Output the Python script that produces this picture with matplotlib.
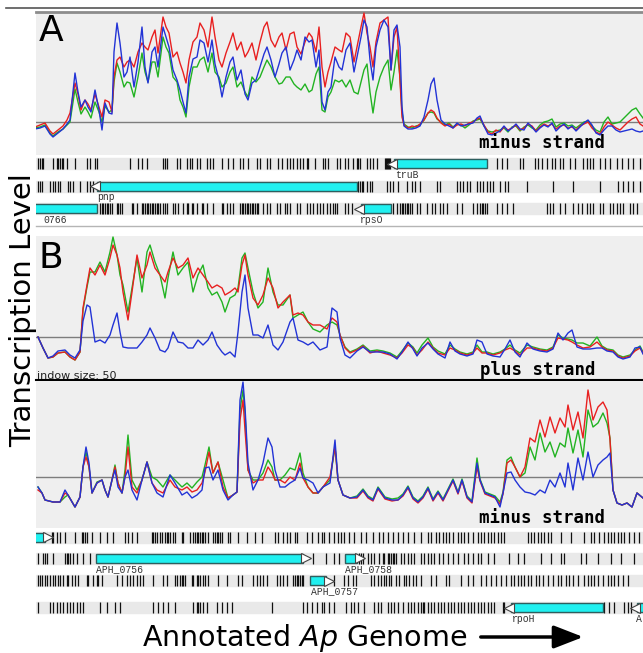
import matplotlib.pyplot as plt
from matplotlib.lines import Line2D
from matplotlib.patches import FancyArrowPatch

# ---------------------------------------------------------------
# signal data (genome position, level above the baseline)
# panel A, minus strand
a_pos = [35, 40, 45, 50, 53, 58, 63, 67, 70, 75,
         78, 81, 85, 88, 91, 95, 99, 102, 105, 109,
         112, 114, 117, 120, 124, 127, 130, 134, 138, 142,
         145, 148, 152, 155, 158, 163, 166, 169, 173, 177,
         180, 183, 186, 189, 193, 197, 200, 204, 208, 212,
         215, 219, 222, 226, 230, 233, 237, 241, 245, 248,
         252, 256, 260, 264, 267, 271, 275, 279, 282, 286,
         290, 294, 297, 301, 305, 309, 312, 316, 319, 322,
         325, 328, 331, 335, 339, 342, 346, 350, 354, 358,
         361, 364, 367, 370, 373, 376, 380, 384, 388, 391,
         394, 397, 400, 402, 404, 408, 412, 416, 420, 424,
         428, 431, 434, 437, 441, 445, 449, 453, 457, 461,
         465, 469, 473, 477, 480, 484, 488, 492, 496, 500,
         504, 508, 512, 516, 520, 524, 528, 532, 536, 540,
         544, 548, 552, 556, 560, 564, 568, 572, 576, 580,
         584, 588, 592, 596, 600, 604, 608, 612, 616, 620,
         624, 628, 632, 636, 640, 643]
a_red = [-5, -3, -1, -9, -12, -8, -4, 2, 9, 39,
         28, 12, 22, 18, 12, 28, 15, 5, 22, 20,
         10, 45, 62, 65, 55, 60, 62, 55, 70, 79,
         75, 72, 85, 92, 69, 105, 95, 89, 65, 70,
         59, 50, 39, 62, 80, 85, 99, 92, 75, 105,
         85, 62, 55, 69, 80, 89, 72, 80, 65, 70,
         79, 62, 80, 95, 100, 82, 75, 85, 89, 72,
         88, 90, 75, 68, 80, 89, 85, 70, 95, 55,
         35, 50, 60, 75, 72, 70, 89, 85, 60, 80,
         95, 109, 89, 75, 55, 80, 99, 102, 105, 52,
         85, 95, 40, 5, -3, -6, -4, -5, -2, 2,
         9, 12, 10, 4, -1, -4, -2, -6, -3, -2,
         -4, -1, 0, 3, 4, -3, -10, -12, -8, -10,
         -5, -8, -6, -3, -8, -6, -2, -4, -9, -5,
         -2, -4, -2, -7, -4, -3, -6, -5, -8, -4,
         -2, 0, -6, -10, -12, -5, 0, -3, -6, -8,
         -4, 0, 3, 5, -2, -4]
a_green = [-6, -5, -3, -11, -14, -10, -7, -3, 0, 33,
           20, 8, 15, 10, 4, 20, 10, 0, 16, 10,
           12, 40, 59, 50, 35, 40, 39, 25, 45, 69,
           50, 40, 60, 60, 45, 85, 75, 69, 45, 40,
           22, 15, 5, 35, 55, 55, 62, 65, 50, 69,
           50, 45, 35, 39, 50, 55, 35, 40, 30, 25,
           45, 40, 45, 55, 62, 55, 45, 38, 39, 45,
           45, 38, 35, 32, 38, 30, 32, 48, 55, 12,
           10, 25, 30, 42, 40, 42, 35, 42, 30, 28,
           40, 52, 58, 30, 9, 30, 45, 55, 62, 32,
           50, 72, 45, 10, -2, -5, -6, -4, -3, 2,
           9, 10, 9, 3, 0, -3, -1, -5, -2, -3,
           -6, -3, 1, 2, 3, -4, -9, -10, -9, -8,
           -6, -10, -5, -4, -9, -5, -3, -6, -8, -3,
           0, 1, 3, -5, -2, -1, -4, -3, -6, -3,
           0, 1, -4, -8, -10, 0, 5, -2, -1, 0,
           4, 8, 12, 14, 8, 4]
a_blue = [-7, -6, -4, -12, -15, -11, -7, -2, 2, 49,
          30, 15, 22, 15, 10, 32, 12, -8, 19, 9,
          8, 70, 99, 79, 45, 50, 65, 35, 60, 95,
          55, 39, 70, 75, 55, 95, 85, 75, 52, 42,
          32, 20, 9, 45, 63, 65, 82, 79, 60, 82,
          58, 42, 25, 45, 60, 65, 42, 52, 28, 22,
          39, 42, 55, 68, 75, 62, 45, 58, 69, 75,
          52, 62, 72, 62, 85, 80, 82, 55, 72, 20,
          12, 30, 35, 65, 55, 52, 72, 79, 50, 70,
          85, 102, 95, 62, 42, 75, 92, 102, 95, 52,
          92, 97, 75, 15, -4, -7, -7, -6, -4, 5,
          22, 38, 44, 22, 2, -2, -4, -6, -1, -4,
          -3, -2, -1, 4, 6, -4, -12, -13, -11, -9,
          -4, -9, -6, -2, -7, -8, -1, -5, -10, -6,
          -3, -5, -1, -9, -5, -2, -7, -4, -9, -5,
          -1, 2, -3, -11, -13, -8, -4, -4, -8, -10,
          -9, -8, -7, -9, -10, -9]

# panel B, plus strand
bp_pos = [38, 43, 48, 53, 58, 65, 70, 75, 80, 83,
          87, 90, 95, 100, 105, 110, 113, 117, 120, 123,
          128, 132, 137, 142, 147, 150, 155, 160, 165, 168,
          173, 178, 183, 188, 193, 198, 203, 208, 212, 217,
          222, 225, 230, 235, 238, 242, 245, 248, 253, 258,
          263, 268, 273, 278, 283, 290, 293, 298, 303, 308,
          313, 320, 327, 332, 337, 340, 345, 350, 357, 363,
          370, 377, 383, 390, 397, 402, 408, 413, 417, 422,
          428, 433, 438, 445, 450, 455, 460, 467, 473, 477,
          482, 487, 493, 500, 505, 510, 515, 520, 527, 533,
          540, 547, 553, 558, 563, 568, 572, 577, 583, 590,
          597, 602, 607, 613, 618, 623, 630, 635, 640, 643]
bp_red = [0, -11, -21, -20, -16, -15, -20, -23, -15, 29,
          52, 69, 62, 72, 62, 79, 92, 82, 69, 45,
          17, 45, 82, 59, 72, 85, 69, 62, 55, 65,
          79, 69, 72, 79, 59, 69, 62, 55, 49, 52,
          49, 42, 45, 49, 45, 72, 82, 62, 39, 32,
          42, 59, 49, 29, 35, 42, 22, 24, 22, 15,
          12, 12, 8, 19, 15, 2, -11, -16, -13, -9,
          -16, -14, -16, -18, -21, -16, -8, -11, -18, -13,
          -5, -11, -16, -18, -11, -13, -16, -18, -16, -11,
          -16, -16, -18, -16, -13, -11, -14, -18, -11, -11,
          -13, -14, -11, -1, -2, -3, -5, -8, -11, -10,
          -5, -10, -13, -14, -19, -21, -19, -14, -11, -16]
bp_green = [0, -11, -21, -20, -16, -15, -20, -23, -15, 27,
            50, 65, 65, 75, 65, 85, 100, 82, 62, 52,
            25, 49, 79, 45, 85, 92, 75, 62, 39, 59,
            85, 62, 69, 75, 45, 62, 72, 49, 42, 45,
            35, 25, 39, 42, 49, 79, 84, 69, 45, 29,
            35, 69, 45, 32, 32, 42, 19, 22, 25, 15,
            8, 5, 12, 15, 12, 2, -10, -15, -12, -8,
            -14, -13, -14, -16, -20, -14, -6, -10, -16, -8,
            -1, -10, -14, -17, -8, -12, -15, -17, -15, -8,
            -15, -15, -17, -15, -12, -8, -13, -16, -8, -10,
            -12, -13, -10, 2, -1, -2, -3, -6, -6, -9,
            0, -9, -12, -13, -18, -20, -18, -13, -9, -15]
bp_blue = [0, -11, -21, -19, -14, -13, -18, -21, -13, 16,
           32, 30, -5, -3, -6, 2, 12, 24, 5, -10,
           -11, -11, -11, -5, 2, 9, -1, -13, -15, -11,
           5, -5, -6, -11, -11, -3, -8, -3, 5, -8,
           -15, -18, -15, -20, 5, 45, 62, 29, 2, 2,
           -1, 12, -8, -13, -5, 15, 19, -3, -5, -8,
           -5, -13, -10, 29, 25, -1, -18, -21, -14, -10,
           -15, -15, -15, -17, -22, -15, -5, -12, -19, -11,
           -6, -12, -17, -21, -5, -14, -17, -19, -17, -3,
           -5, -17, -19, -20, -12, -3, -15, -20, -6, -12,
           -14, -15, -12, 4, -3, 4, 7, -10, -12, -12,
           -11, -11, -14, -15, -20, -22, -20, -11, -10, -17]

# panel B, minus strand
bm_pos = [38, 42, 45, 53, 60, 65, 68, 75, 80, 83,
          86, 89, 92, 97, 102, 105, 108, 112, 115, 118,
          122, 125, 128, 132, 137, 142, 147, 152, 157, 163,
          170, 175, 182, 187, 192, 197, 202, 205, 209, 213,
          218, 223, 228, 233, 237, 240, 243, 245, 248, 253,
          258, 263, 268, 272, 275, 280, 285, 290, 295, 300,
          303, 308, 313, 318, 323, 330, 335, 338, 343, 350,
          357, 363, 368, 373, 378, 385, 392, 398, 403, 408,
          413, 418, 423, 428, 433, 438, 443, 448, 453, 458,
          462, 467, 472, 477, 480, 485, 490, 495, 500, 503,
          507, 511, 515, 520, 525, 530, 535, 540, 545, 550,
          555, 560, 565, 568, 573, 578, 583, 588, 593, 598,
          603, 607, 610, 613, 617, 622, 627, 632, 637, 643]
bm_red = [-13, -16, -23, -25, -25, -16, -18, -30, -20, 10,
          20, 10, -16, -6, -3, -13, -20, -3, 10, -6,
          -16, 0, 30, -10, -16, -3, 15, -6, -13, -16,
          -3, -10, -13, -10, -15, -13, -6, 5, 25, 4,
          15, -10, -21, -18, -15, 57, 77, 47, 7, -6,
          -3, -3, 10, 4, -3, -3, -6, 0, -3, 14,
          -1, -10, -16, -16, -10, 0, 30, -3, -18, -21,
          -21, -14, -21, -24, -12, -22, -24, -23, -19, -11,
          -22, -26, -21, -12, -24, -16, -24, -14, -4, -17,
          -4, -21, -26, 10, -4, -17, -19, -21, -27, -17,
          14, 17, 10, 0, 10, 39, 35, 57, 40, 60,
          44, 59, 50, 72, 47, 65, 39, 87, 57, 70,
          75, 67, 37, -13, -26, -28, -26, -30, -16, -21]
bm_green = [-10, -16, -23, -25, -25, -20, -18, -30, -20, 10,
            25, 10, -16, -5, -3, -13, -20, -3, 12, -6,
            -16, 7, 42, -3, -13, -3, 15, 0, -3, -10,
            2, -3, -10, -6, -11, -5, 0, 12, 30, 4,
            15, -3, -21, -18, -15, 67, 87, 64, 7, -3,
            -3, 4, 17, 10, -3, -3, 2, 9, 7, 24,
            4, -10, -16, -16, -10, -3, 30, -3, -18, -21,
            -19, -12, -19, -22, -10, -20, -22, -21, -17, -9,
            -20, -24, -19, -10, -22, -14, -22, -12, -2, -15,
            -2, -19, -24, 19, -2, -15, -17, -19, -25, -15,
            17, 20, 10, 0, 4, 30, 17, 44, 25, 35,
            20, 34, 30, 49, 24, 47, 20, 67, 50, 54,
            64, 54, 39, -13, -26, -28, -26, -30, -16, -21]
bm_blue = [-10, -16, -23, -25, -25, -13, -18, -30, -20, 10,
           30, 14, -16, -6, -3, -13, -20, -3, 7, -10,
           -16, 0, 7, -13, -23, -3, 15, -6, -16, -20,
           2, -6, -18, -15, -21, -18, -13, 9, 10, -3,
           7, -13, -23, -18, -15, 77, 95, 70, 14, -13,
           -3, 14, 39, 30, 7, -10, -10, -6, -3, 9,
           -1, -3, -6, -16, -10, -6, 37, -3, -18, -21,
           -20, -13, -20, -23, -11, -21, -23, -23, -18, -10,
           -21, -25, -20, -11, -23, -15, -23, -13, -3, -16,
           -3, -20, -25, 14, -3, -16, -18, -20, -30, -16,
           4, 5, -3, -10, -15, -16, -18, -13, -16, -3,
           -10, 4, -10, 14, -13, 19, -3, 25, 0, 12,
           17, 20, 24, -13, -26, -28, -26, -30, -16, -21]

# ---------------------------------------------------------------
# annotation tracks (positions of short features and of named genes)
a_ticks = [
    [38, 40, 42, 43, 53, 57, 58, 60, 62, 63, 67, 75, 87, 90, 95, 97, 130, 138, 142, 147,
     163, 165, 167, 177, 180, 187, 190, 192, 197, 200, 207, 210, 213, 222, 228, 233, 240, 243,
     248, 257, 260, 267, 270, 278, 282, 287, 290, 293, 297, 300, 303, 307, 308, 315, 323, 325,
     328, 337, 340, 345, 348, 353, 357, 358, 360, 367, 370, 373, 377, 385, 386, 387, 388, 389,
     390, 497, 502, 507, 520, 523, 535, 538, 542, 547, 552, 555, 560, 563, 570, 575, 583, 587,
     590, 593, 600, 605, 610, 617, 622, 628, 633, 640],
    [38, 40, 42, 50, 53, 55, 58, 60, 68, 70, 73, 80, 87, 90, 93, 358, 360, 362, 363, 367, 370,
     372, 387, 390, 393, 398, 407, 412, 415, 420, 437, 440, 457, 460, 463, 467, 470, 477, 480,
     483, 487, 490, 493, 500, 505, 508, 527, 553, 573, 600, 618, 623, 628, 633, 640],
    [100, 102, 103, 105, 107, 108, 110, 112, 117, 118, 120, 122, 132, 133, 137, 142, 143, 145,
     147, 148, 150, 152, 153, 155, 157, 158, 160, 163, 165, 167, 173, 175, 178, 183, 187, 188,
     192, 193, 197, 202, 203, 207, 213, 222, 223, 227, 230, 233, 240, 242, 243, 245, 247, 248,
     250, 252, 253, 255, 257, 258, 263, 267, 270, 277, 280, 285, 287, 290, 297, 300, 307, 310,
     313, 317, 320, 323, 327, 330, 333, 335, 337, 345, 348, 352, 393, 397, 400, 402, 403, 405,
     407, 408, 410, 412, 417, 420, 427, 432, 435, 440, 443, 447, 457, 462, 473, 477, 480, 482,
     483, 485, 487, 497, 502, 507, 513, 547, 550, 553, 560, 565, 573, 578, 582, 587, 590, 593,
     600, 603, 610, 613, 617, 620, 623, 630, 633, 637],
]
a_gene_names = ['truB', 'pnp', '0766', 'rpsO']
a_gene_start = [394, 97, 20, 361]
a_gene_end = [487, 357, 97, 391]
a_gene_row = [0, 1, 2, 2]
a_gene_strand = ['-', '-', '', '-']
a_label_x = [395, 97, 43, 360]

b_ticks = [
    [52, 53, 57, 60, 65, 75, 82, 83, 85, 87, 92, 100, 107, 113, 125, 128, 132, 137, 152, 153,
     155, 157, 160, 162, 165, 167, 168, 170, 173, 175, 182, 183, 190, 193, 195, 197, 198, 200,
     202, 203, 205, 208, 213, 215, 217, 218, 220, 222, 228, 230, 238, 247, 255, 262, 275, 278,
     283, 287, 290, 295, 297, 307, 312, 318, 322, 324, 329, 334, 338, 341, 344, 349, 354, 361,
     366, 373, 379, 383, 388, 393, 398, 403, 408, 414, 421, 428, 431, 436, 439, 443, 446, 449,
     453, 458, 461, 464, 468, 473, 478, 481, 484, 488, 491, 494, 498, 501, 504, 528, 531, 534,
     538, 541, 544, 548, 551, 561, 571, 584, 591, 594, 599, 604, 608, 611, 614, 618, 621, 624,
     629, 634, 639],
    [38, 43, 45, 47, 53, 65, 67, 68, 70, 73, 77, 83, 90, 313, 326, 334, 339, 359, 361, 363, 368,
     371, 374, 379, 383, 384, 388, 389, 391, 393, 394, 396, 401, 404, 408, 411, 414, 421, 424,
     428, 431, 434, 439, 443, 448, 453, 458, 464, 468, 473, 478, 481, 488, 494, 509, 518, 524,
     541, 551, 561, 564, 581, 586, 598, 611, 621, 634],
    [38, 40, 42, 45, 47, 50, 53, 55, 58, 60, 63, 67, 68, 72, 75, 78, 87, 88, 93, 97, 98, 102,
     117, 122, 127, 130, 133, 137, 140, 143, 153, 163, 167, 175, 177, 180, 182, 183, 185, 192,
     193, 197, 198, 200, 203, 205, 208, 218, 227, 238, 242, 253, 257, 260, 263, 267, 277, 280,
     283, 287, 293, 295, 297, 298, 300, 302, 303, 334, 344, 348, 353, 356, 371, 374, 378, 381,
     384, 386, 389, 391, 396, 399, 404, 406, 409, 413, 416, 421, 431, 436, 446, 449, 461, 468,
     473, 481, 486, 491, 496, 501, 506, 511, 514, 518, 521, 524, 528, 531, 536, 539, 543, 548,
     553, 558, 561, 566, 569, 573, 578, 584, 588, 591, 594, 598, 603, 608, 611, 614, 618, 623,
     628],
    [38, 50, 53, 57, 60, 63, 67, 70, 73, 77, 80, 83, 100, 107, 115, 120, 153, 158, 163, 168,
     175, 193, 197, 198, 200, 203, 207, 217, 222, 227, 232, 272, 303, 307, 312, 317, 322, 324,
     329, 334, 346, 351, 354, 358, 364, 374, 378, 381, 388, 391, 394, 398, 403, 408, 411, 414,
     418, 421, 423, 424, 428, 431, 434, 438, 441, 444, 448, 451, 454, 458, 461, 464, 468, 471,
     474, 478, 481, 484, 488, 491, 494, 503, 504, 604, 609, 614, 624, 628, 631],
]
b_gene_names = ['', 'APH_0756', 'APH_0758', 'APH_0757', 'rpoH', 'A']
b_gene_start = [30, 96, 345, 310, 511, 637]
b_gene_end = [45, 303, 357, 326, 603, 660]
b_gene_row = [0, 1, 1, 2, 3, 3]
b_gene_strand = ['+', '+', '+', '+', '-', '-']
b_label_x = [36, 96, 345, 311, 512, 636]

# ---------------------------------------------------------------
W, H = 643, 653
fig = plt.figure(figsize=(6.43, 6.53), dpi=100)


def box(top, bottom, left=36, right=643):
    return [left / W, 1 - bottom / H, (right - left) / W, (bottom - top) / H]


def fx(x):
    return x / W


def fy(y):
    return 1 - y / H


def signal(ax, pos, red, green, blue, lo, hi):
    ax.set_facecolor('#efefef')
    ax.axhline(0, color='#7d7d7d', lw=1, zorder=1)
    ax.plot(pos, green, color='#22b322', lw=1.0, zorder=2)
    ax.plot(pos, red, color='#e82020', lw=1.0, zorder=3)
    ax.plot(pos, blue, color='#2233d6', lw=1.0, zorder=4)
    ax.set_xlim(36, 643)
    ax.set_ylim(lo, hi)
    ax.set_xticks([])
    ax.set_yticks([])
    for s in ax.spines.values():
        s.set_visible(False)


def tracks(ax, rows, ticks, names, starts, ends, rws, strands, lab_x, lo, hi):
    ax.set_xlim(36, 643)
    ax.set_ylim(hi, lo)
    ax.axis('off')
    for c, tk in zip(rows, ticks):
        ax.axhspan(c - 5.5, c + 5.5, color='#e9e9e9', zorder=0)
        ax.vlines(tk, c - 5.5, c + 5.5, color='#111111', lw=0.9, zorder=1)
    for nm, s, e, r, st, lx in zip(names, starts, ends, rws, strands, lab_x):
        c = rows[r]
        ax.barh(c, e - s, left=s, height=9, color='#20f0f0',
                edgecolor='#2d5f5f', lw=1, zorder=3)
        if st == '-':
            ax.plot(s - 2.5, c, marker='<', ms=7, mfc='white', mec='#444', mew=0.8, zorder=4)
        elif st == '+':
            ax.plot(e + 2.5, c, marker='>', ms=7, mfc='white', mec='#444', mew=0.8, zorder=4)
        if nm:
            ax.text(lx, c + 6, nm, fontsize=7, family='Liberation Mono', color='#333',
                    va='top', ha='left', zorder=5, clip_on=False)


# panel A
axA = fig.add_axes(box(12, 155))
signal(axA, a_pos, a_red, a_green, a_blue, -33, 110)
axA.spines['top'].set_visible(True)
axA.spines['top'].set_color('#8c8c8c')
axA.spines['top'].set_linewidth(2)

axAt = fig.add_axes(box(155, 226))
tracks(axAt, [163.5, 186.5, 209], a_ticks, a_gene_names, a_gene_start, a_gene_end,
       a_gene_row, a_gene_strand, a_label_x, 155, 226)

# panel B
axB1 = fig.add_axes(box(236, 380))
signal(axB1, bp_pos, bp_red, bp_green, bp_blue, -43, 101)
axB1.spines['bottom'].set_visible(True)
axB1.spines['bottom'].set_color('k')
axB1.spines['bottom'].set_linewidth(1.5)

axB2 = fig.add_axes(box(381, 528))
signal(axB2, bm_pos, bm_red, bm_green, bm_blue, -51, 96)

axBt = fig.add_axes(box(528, 625))
tracks(axBt, [537, 558, 580.5, 607.5], b_ticks, b_gene_names, b_gene_start, b_gene_end,
       b_gene_row, b_gene_strand, b_label_x, 528, 625)

# frame lines
fig.add_artist(Line2D([fx(6), 1], [fy(8), fy(8)], color='#555555', lw=1.2))
fig.add_artist(Line2D([fx(36), 1], [fy(226), fy(226)], color='#b5b5b5', lw=1))

# texts
fig.text(fx(39), fy(31), 'A', fontsize=26, va='center', ha='left')
fig.text(fx(39), fy(258), 'B', fontsize=26, va='center', ha='left')
strand_kw = dict(fontsize=12.5, family='DejaVu Sans Mono', weight='bold', va='center', ha='left')
fig.text(fx(479), fy(143), 'minus strand', **strand_kw)
fig.text(fx(480), fy(370), 'plus strand', **strand_kw)
fig.text(fx(479), fy(518), 'minus strand', **strand_kw)
fig.text(fx(37), fy(376), 'indow size: 50', fontsize=8, va='center', ha='left', color='#222')
fig.text(fx(23), fy(310), 'Transcription Level', rotation=90, fontsize=21,
         ha='center', va='center')
fig.text(fx(305), fy(646), r'Annotated $\mathit{Ap}$ Genome', fontsize=20.5,
         ha='center', va='baseline')
fig.add_artist(FancyArrowPatch((fx(478), fy(637)), (fx(586), fy(637)),
                               transform=fig.transFigure,
                               arrowstyle='-|>,head_length=0.9,head_width=0.35',
                               mutation_scale=20, lw=2.5, color='k'))

fig.savefig('out.png', dpi=100)
